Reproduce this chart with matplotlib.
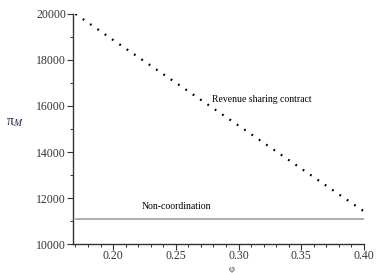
import numpy as np
import matplotlib
matplotlib.use('Agg')
import matplotlib.pyplot as plt
from matplotlib.ticker import MultipleLocator

# data
phi         = [0.17, 0.20, 0.25, 0.30, 0.35, 0.40]
pi_revenue  = [20000, 18870, 17010, 15150, 13280, 11420]
pi_noncoord = 11090

plt.rcParams['font.family'] = ['Liberation Serif', 'DejaVu Serif']
plt.rcParams['mathtext.fontset'] = 'stix'

fig = plt.figure(figsize=(3.88, 2.73), dpi=100)
ax = fig.add_axes([0.188, 0.106, 0.75, 0.843])

ax.plot(phi, pi_revenue, color='black', linestyle=(0, (0.8, 3.2)), linewidth=1.6)
ax.axhline(pi_noncoord, color='#a0a0a0', linewidth=1.2, xmin=0.01)

ax.text(0.279, 16300, 'Revenue sharing contract', fontsize=7, va='center')
ax.text(0.223, 11650, 'Non-coordination', fontsize=7, va='center')

ax.set_xlim(0.168, 0.40)
ax.set_ylim(10000, 20000)
ax.xaxis.set_major_locator(MultipleLocator(0.05))
ax.xaxis.set_minor_locator(MultipleLocator(0.01))
ax.yaxis.set_major_locator(MultipleLocator(2000))
ax.yaxis.set_minor_locator(MultipleLocator(1000))
ax.xaxis.set_major_formatter(matplotlib.ticker.FormatStrFormatter('%.2f'))

ax.spines['top'].set_visible(False)
ax.spines['right'].set_visible(False)
for s in ['left', 'bottom']:
    ax.spines[s].set_linewidth(1.0)
    ax.spines[s].set_color('#333333')
ax.tick_params(which='major', length=4, width=0.8, labelsize=8.5, colors='#333333', pad=1)
ax.tick_params(axis='x', which='major', pad=0.5)
ax.tick_params(which='minor', length=2.5, width=0.7, colors='#333333')

ax.set_xlabel('φ', fontsize=7.5, color='#444444')
ax.xaxis.set_label_coords(0.545, -0.092)
ax.set_ylabel(r'π$_{M}$', fontsize=10, rotation=0, color='#222244')
ax.yaxis.set_label_coords(-0.2, 0.5)

fig.savefig('out.png', dpi=100)
